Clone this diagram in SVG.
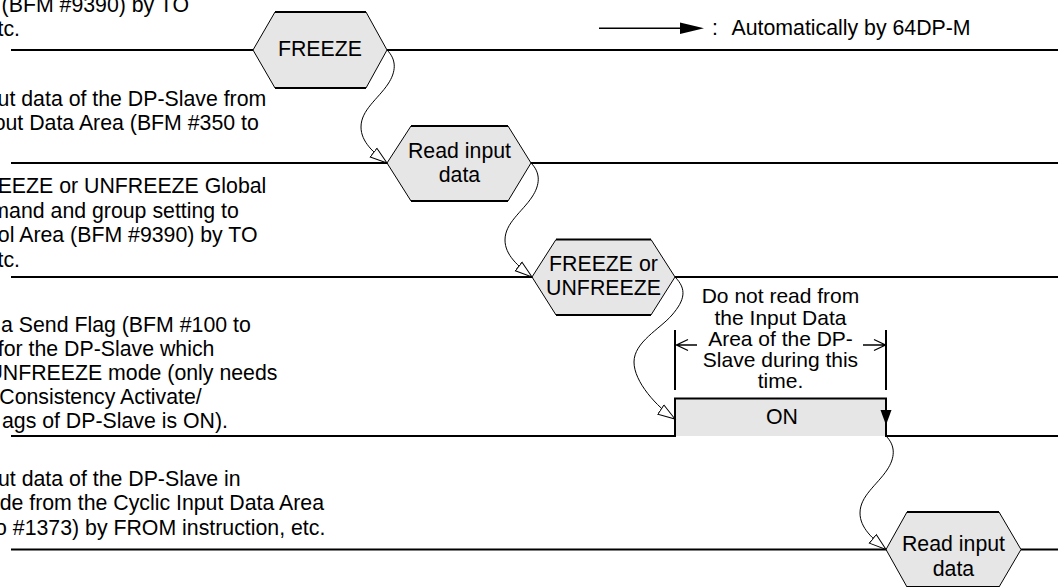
<svg xmlns="http://www.w3.org/2000/svg" width="1058" height="587" viewBox="0 0 1058 587">
<defs>
<style>
text{font-family:"Liberation Sans",Arial,sans-serif;font-size:21.3px;fill:#000}
.c{text-anchor:middle}
.e{text-anchor:end}
.n{font-size:21px}
.hx{fill:#e6e6e6;stroke:#000;stroke-width:1}
.hb{stroke:#000;stroke-width:2;fill:none}
.tl{stroke:#000;stroke-width:2;fill:none}
.cv{fill:none;stroke:#000;stroke-width:1}
.dm{fill:none;stroke:#000;stroke-width:1.3}
</style>
<marker id="oa" markerUnits="userSpaceOnUse" markerWidth="20" markerHeight="14" viewBox="0 0 20 14" refX="17.5" refY="7" orient="auto"><path d="M0.5,1.5 L17.5,7 L0.5,12.5 Z" fill="#fff" stroke="#000" stroke-width="1"/></marker>
</defs>
<rect x="0" y="0" width="1058" height="587" fill="#fff"/>

<g id="descriptions">
<text x="189" y="11.8" class="e">(BFM #9390) by TO</text>
<text x="20" y="36" class="e">tc.</text>
<text x="266.3" y="105.5" class="e">ut data of the DP-Slave from</text>
<text x="258.8" y="129.7" class="e">out Data Area (BFM #350 to</text>
<text x="266.3" y="193" class="e">EEZE or UNFREEZE Global</text>
<text x="238.8" y="217.5" class="e">mand and group setting to</text>
<text x="257.5" y="242" class="e">ol Area (BFM #9390) by TO</text>
<text x="20" y="266.5" class="e">tc.</text>
<text x="250.8" y="331.5" class="e">a Send Flag (BFM #100 to</text>
<text x="214.4" y="355.7" class="e">for the DP-Slave which</text>
<text x="277.4" y="379.9" class="e">UNFREEZE mode (only needs</text>
<text x="201.7" y="404.1" class="e">Consistency Activate/</text>
<text x="228" y="428.3" class="e">ags of DP-Slave is ON).</text>
<text x="240.7" y="486" class="e">ut data of the DP-Slave in</text>
<text x="324" y="510.3" class="e">de from the Cyclic Input Data Area</text>
<text x="325.3" y="534.6" class="e">o #1373) by FROM instruction, etc.</text>
</g>

<g id="legend">
<line x1="599" y1="28.3" x2="682" y2="28.3" stroke="#000" stroke-width="1.5"/>
<polygon points="680,22.5 704,28.3 680,34" fill="#000"/>
<text x="712" y="35">:</text>
<text x="731.5" y="35">Automatically by 64DP-M</text>
</g>

<g id="timelines">
<path class="tl" d="M11,50 H253 M387,50 H1058"/>
<path class="tl" d="M11,163 H387 M531,163 H1058"/>
<path class="tl" d="M11,277 H532 M675,277 H1058"/>
<path class="tl" d="M11,549.5 H886 M1021,549.5 H1058"/>
</g>

<g id="node-freeze">
<polygon class="hx" points="253,50 275,12 366,12 387,50 366,88 275,88"/>
<path class="hb" d="M275,12 H366 M275,88 H366"/>
<text x="320" y="56" class="c">FREEZE</text>
</g>

<g id="node-read1">
<polygon class="hx" points="387,163 411,126 508,126 531,163 508,201 411,201"/>
<path class="hb" d="M411,126 H508 M411,201 H508"/>
<text x="459.5" y="158.3" class="c">Read input</text>
<text x="459.5" y="181.7" class="c">data</text>
</g>

<g id="node-freeze-unfreeze">
<polygon class="hx" points="532,277 556,239.5 651,239.5 675,277 651,315 556,315"/>
<path class="hb" d="M556,239.5 H651 M556,315 H651"/>
<text x="603.5" y="270.7" class="c">FREEZE or</text>
<text x="603.5" y="295" class="c">UNFREEZE</text>
</g>

<g id="node-on">
<rect x="675" y="398.5" width="211" height="37.5" fill="#e6e6e6"/>
<path class="tl" d="M11,436 H675 V398.5 H886 V436 H1058"/>
<text x="782" y="424" class="c">ON</text>
<polygon points="880.5,410 891.5,410 886,425" fill="#000"/>
</g>

<g id="node-read2">
<polygon class="hx" points="886,549.5 907,512 999,512 1021,549.5 999,587 907,587"/>
<path class="hb" d="M907,512 H999 M907,587 H999"/>
<text x="953.5" y="551" class="c">Read input</text>
<text x="953.5" y="575.5" class="c">data</text>
</g>

<g id="annotation">
<path class="tl" d="M675,330 V390 M886,330 V390"/>
<path class="dm" d="M676,345 H697 M688,339.5 L676.5,345 L688,350.5"/>
<path class="dm" d="M863,345 H885 M874,339.5 L885.5,345 L874,350.5"/>
<text x="780.5" y="303.3" class="c n">Do not read from</text>
<text x="780.5" y="324.5" class="c n">the Input Data</text>
<text x="780.5" y="345.5" class="c n">Area of the DP-</text>
<text x="780.5" y="366.7" class="c n">Slave during this</text>
<text x="780.5" y="387.5" class="c n">time.</text>
</g>

<g id="connectors">
<path class="cv" marker-end="url(#oa)" d="M387,50 C397,60 396,72 388,84 C378,99 361,110 361,127 C361,142 374,153 387,163"/>
<path class="cv" marker-end="url(#oa)" d="M531,163 C541,173 540,185 532,197 C522,212 505,223 505,240 C505,255 518,266 532,277"/>
<path class="cv" marker-end="url(#oa)" d="M675,277 C687,289 685,300 672,315 C660,329 634,342 634,362 C634,382 657,407 675,419"/>
<path class="cv" marker-end="url(#oa)" d="M886,436 C896,446 895,458 887,470 C877,485 860,496 860,513 C860,528 873,539 886,549.5"/>
</g>
</svg>
